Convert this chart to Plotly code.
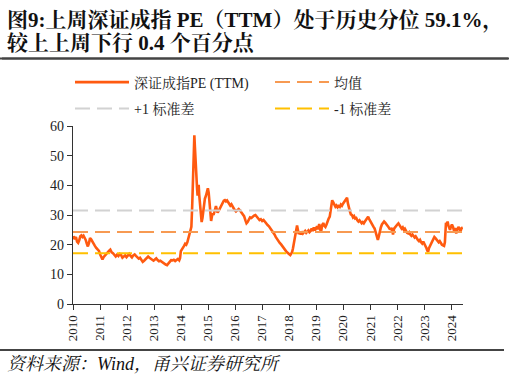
import plotly.graph_objects as go

# ---------------- data ----------------
years = [
    2010.00, 2010.03, 2010.07, 2010.11, 2010.15, 2010.19, 2010.23, 2010.27, 2010.31, 2010.35,
    2010.39, 2010.43, 2010.47, 2010.51, 2010.55, 2010.59, 2010.63, 2010.67, 2010.71, 2010.76,
    2010.81, 2010.86, 2010.91, 2010.96, 2011.01, 2011.05, 2011.09, 2011.13, 2011.18, 2011.23,
    2011.28, 2011.33, 2011.38, 2011.43, 2011.48, 2011.53, 2011.58, 2011.63, 2011.68, 2011.73,
    2011.78, 2011.83, 2011.88, 2011.93, 2011.98, 2012.03, 2012.08, 2012.13, 2012.18, 2012.23,
    2012.28, 2012.33, 2012.38, 2012.43, 2012.48, 2012.53, 2012.58, 2012.63, 2012.68, 2012.73,
    2012.78, 2012.83, 2012.88, 2012.93, 2012.98, 2013.03, 2013.08, 2013.13, 2013.18, 2013.23,
    2013.28, 2013.33, 2013.38, 2013.43, 2013.48, 2013.53, 2013.58, 2013.63, 2013.68, 2013.73,
    2013.78, 2013.83, 2013.88, 2013.93, 2013.96, 2013.99, 2014.03, 2014.07, 2014.11, 2014.15,
    2014.19, 2014.23, 2014.27, 2014.31, 2014.35, 2014.38, 2014.41, 2014.43, 2014.45, 2014.47,
    2014.49, 2014.51, 2014.53, 2014.55, 2014.57, 2014.59, 2014.61, 2014.63, 2014.65, 2014.67,
    2014.70, 2014.73, 2014.76, 2014.79, 2014.82, 2014.85, 2014.88, 2014.92, 2014.96, 2014.99,
    2015.02, 2015.05, 2015.08, 2015.11, 2015.14, 2015.17, 2015.20, 2015.23, 2015.26, 2015.29,
    2015.32, 2015.35, 2015.38, 2015.42, 2015.46, 2015.50, 2015.54, 2015.58, 2015.62, 2015.66,
    2015.70, 2015.74, 2015.78, 2015.82, 2015.86, 2015.90, 2015.94, 2015.98, 2016.03, 2016.08,
    2016.13, 2016.18, 2016.23, 2016.28, 2016.33, 2016.38, 2016.42, 2016.46, 2016.50, 2016.55,
    2016.60, 2016.65, 2016.70, 2016.75, 2016.80, 2016.85, 2016.90, 2016.95, 2017.00, 2017.05,
    2017.10, 2017.15, 2017.20, 2017.25, 2017.30, 2017.35, 2017.40, 2017.45, 2017.50, 2017.55,
    2017.60, 2017.65, 2017.70, 2017.75, 2017.80, 2017.85, 2017.90, 2017.95, 2018.00, 2018.04,
    2018.07, 2018.11, 2018.14, 2018.18, 2018.22, 2018.26, 2018.29, 2018.32, 2018.35, 2018.39,
    2018.43, 2018.47, 2018.51, 2018.55, 2018.59, 2018.63, 2018.67, 2018.71, 2018.75, 2018.79,
    2018.83, 2018.87, 2018.91, 2018.95, 2018.99, 2019.03, 2019.07, 2019.11, 2019.15, 2019.18,
    2019.22, 2019.26, 2019.30, 2019.34, 2019.38, 2019.42, 2019.46, 2019.50, 2019.53, 2019.56,
    2019.59, 2019.62, 2019.65, 2019.68, 2019.71, 2019.75, 2019.79, 2019.83, 2019.87, 2019.91,
    2019.95, 2019.99, 2020.03, 2020.07, 2020.11, 2020.14, 2020.17, 2020.20, 2020.24, 2020.28,
    2020.32, 2020.36, 2020.40, 2020.44, 2020.48, 2020.52, 2020.56, 2020.60, 2020.64, 2020.68,
    2020.72, 2020.76, 2020.80, 2020.84, 2020.88, 2020.92, 2020.96, 2021.00, 2021.04, 2021.08,
    2021.12, 2021.16, 2021.20, 2021.24, 2021.28, 2021.31, 2021.35, 2021.39, 2021.43, 2021.47,
    2021.51, 2021.55, 2021.59, 2021.63, 2021.67, 2021.71, 2021.76, 2021.80, 2021.84, 2021.88,
    2021.92, 2021.96, 2022.00, 2022.04, 2022.08, 2022.12, 2022.16, 2022.20, 2022.24, 2022.28,
    2022.32, 2022.36, 2022.40, 2022.44, 2022.48, 2022.52, 2022.56, 2022.60, 2022.64, 2022.68,
    2022.72, 2022.76, 2022.80, 2022.84, 2022.88, 2022.92, 2022.96, 2023.00, 2023.04, 2023.08,
    2023.11, 2023.14, 2023.17, 2023.21, 2023.25, 2023.29, 2023.33, 2023.37, 2023.41, 2023.45,
    2023.49, 2023.53, 2023.57, 2023.61, 2023.65, 2023.69, 2023.73, 2023.76, 2023.78, 2023.80,
    2023.83, 2023.86, 2023.89, 2023.92, 2023.95, 2023.98, 2024.02, 2024.06, 2024.10, 2024.14,
    2024.18, 2024.22, 2024.26, 2024.30, 2024.34, 2024.38, 2024.42,
]
pe_ttm = [
    21.8, 22.8, 21.9, 22.6, 21.0, 20.6, 21.5, 22.8, 23.1, 22.6,
    23.0, 22.4, 21.6, 20.4, 19.4, 20.5, 22.2, 21.8, 21.0, 20.3,
    19.6, 18.9, 18.4, 17.9, 16.6, 15.6, 15.0, 15.8, 16.4, 17.0,
    17.6, 17.9, 18.3, 17.4, 17.1, 16.4, 16.0, 16.6, 16.2, 16.9,
    16.5, 15.6, 16.1, 16.4, 15.8, 16.3, 16.9, 16.2, 15.7, 16.4,
    16.7, 16.2, 15.8, 15.3, 15.6, 14.8, 14.2, 14.6, 15.0, 15.5,
    16.0, 15.6, 15.2, 15.0, 14.6, 15.0, 15.4, 14.8, 14.4, 14.6,
    14.2, 14.0, 13.6, 13.3, 13.1, 13.6, 14.2, 14.8, 14.7, 14.9,
    14.5, 14.8, 15.2, 14.7, 15.4, 17.8, 18.6, 19.0, 19.6, 20.3,
    20.0, 20.8, 22.4, 23.2, 24.6, 26.0, 33.0, 42.0, 50.5, 55.0,
    56.9, 53.0, 48.0, 43.5, 41.0, 39.0, 36.5, 38.5, 40.2, 36.8,
    33.0, 29.5, 27.6, 29.0, 31.3, 33.5, 35.5, 36.5, 37.8, 39.0,
    37.5, 34.8, 31.0, 28.0, 29.5, 30.6, 30.0, 31.4, 32.2, 33.0,
    31.8, 30.8, 31.2, 32.0, 32.8, 33.6, 34.2, 34.8, 35.0, 34.6,
    34.9, 34.4, 33.8, 33.2, 33.6, 32.8, 32.2, 31.7, 31.2, 31.8,
    32.0, 31.5, 30.8, 30.4, 29.6, 28.2, 27.2, 27.6, 28.6, 29.2,
    29.0, 29.6, 29.8, 30.0, 29.3, 28.8, 28.3, 28.6, 28.0, 28.3,
    27.6, 27.2, 26.6, 26.2, 25.6, 25.0, 24.3, 23.5, 22.6, 21.8,
    21.2, 20.6, 20.1, 19.4, 18.8, 18.2, 17.6, 17.2, 16.9, 16.5,
    16.9, 17.6, 18.8, 21.0, 23.5, 25.8, 26.5, 25.0, 23.6, 24.2,
    23.4, 24.5, 23.8, 24.2, 24.6, 24.0, 24.3, 24.8, 24.2, 24.6,
    25.4, 24.6, 25.8, 24.8, 25.4, 26.2, 25.2, 27.0, 25.0, 24.4,
    26.6, 27.3, 26.4, 26.0, 26.8, 28.0, 28.8, 29.5, 31.0, 33.0,
    35.0, 34.4, 34.0, 33.6, 32.8, 33.2, 32.6, 33.0, 32.7, 33.5,
    33.1, 33.8, 34.4, 34.8, 35.4, 35.8, 34.0, 32.4, 31.4, 30.2,
    30.0, 29.2, 29.6, 28.8, 29.0, 28.2, 27.8, 28.2, 27.4, 27.2,
    27.6, 27.2, 27.8, 28.4, 29.0, 29.4, 28.6, 27.8, 27.2, 26.6,
    26.0, 25.4, 24.2, 22.8, 21.6, 22.6, 24.6, 25.8, 26.8, 27.4,
    27.8, 27.4, 27.0, 26.4, 26.0, 25.4, 25.2, 25.6, 23.4, 25.4,
    26.0, 26.4, 26.8, 27.2, 26.6, 26.2, 25.4, 25.8, 25.0, 25.4,
    24.6, 24.0, 23.8, 24.2, 23.4, 23.0, 23.4, 22.8, 22.4, 22.8,
    22.0, 21.6, 21.2, 21.6, 20.8, 20.4, 21.0, 20.4, 19.6, 18.8,
    18.0, 17.6, 18.8, 19.6, 20.2, 21.0, 21.8, 22.6, 22.2, 21.6,
    21.2, 20.8, 21.2, 20.4, 20.0, 19.8, 19.6, 20.8, 24.8, 27.4,
    26.8, 27.8, 26.4, 25.8, 25.0, 26.0, 26.8, 26.0, 24.6, 25.6,
    23.8, 25.0, 26.0, 25.4, 24.6, 25.6, 25.8,
]
mean_level = 24.3
plus1_level = 31.5
minus1_level = 17.1
span = [2010.0, 2024.42]

tick_years = list(range(2010, 2025))
tick_labels = [str(y) for y in tick_years]

series_names = ["深证成指PE (TTM)", "均值", "+1 标准差", "-1 标准差"]

title_line1 = "图9:上周深证成指 PE（TTM）处于历史分位 59.1%，"
title_line2 = "较上上周下行 0.4 个百分点"
source_text = "资料来源：Wind，甬兴证券研究所"

# ---------------- layout helpers ----------------
W, H = 509, 382
L, R, T, B = 73, 46, 126, 78
PW, PH = W - L - R, H - T - B


def px(x):
    return (x - L) / PW


def py(y):
    return (H - B - y) / PH


FONT = "Times New Roman, Liberation Serif, Noto Serif CJK SC, Noto Sans CJK SC, serif"
DASH = "15px,7px"

fig = go.Figure()
fig.add_trace(go.Scatter(x=years, y=pe_ttm, mode="lines", name=series_names[0],
                         legend="legend", line=dict(color="#FF5A10", width=2.6)))
fig.add_trace(go.Scatter(x=span, y=[mean_level] * 2, mode="lines", name=series_names[1],
                         legend="legend", line=dict(color="#F79A52", width=2, dash=DASH)))
fig.add_trace(go.Scatter(x=span, y=[plus1_level] * 2, mode="lines", name=series_names[2],
                         legend="legend2", line=dict(color="#D2D2D2", width=2, dash=DASH)))
fig.add_trace(go.Scatter(x=span, y=[minus1_level] * 2, mode="lines", name=series_names[3],
                         legend="legend2", line=dict(color="#FFC000", width=2, dash=DASH)))

ITEMW = 54
legend_common = dict(orientation="h", x=px(70), xanchor="left", yanchor="middle",
                     entrywidth=201 - ITEMW - 16, entrywidthmode="pixels", itemwidth=ITEMW,
                     font=dict(family=FONT, size=14, color="#222"),
                     bgcolor="rgba(0,0,0,0)", traceorder="normal")

fig.update_layout(
    width=W, height=H,
    margin=dict(l=L, r=R, t=T, b=B),
    paper_bgcolor="white", plot_bgcolor="white",
    font=dict(family=FONT, size=13, color="#222"),
    showlegend=True,
    legend=dict(legend_common, y=py(82.5)),
    legend2=dict(legend_common, y=py(109)),
    xaxis=dict(range=[2010.0, 2024.43], tickmode="array", tickvals=tick_years,
               ticktext=tick_labels, tickangle=-90, showgrid=False, zeroline=False,
               showline=True, linecolor="#333", linewidth=1.2, ticks="outside",
               ticklen=5, tickcolor="#333", tickfont=dict(family=FONT, size=13)),
    yaxis=dict(range=[0, 60], tickmode="array", tickvals=[0, 10, 20, 30, 40, 50, 60],
               showgrid=False, zeroline=False, showline=True, linecolor="#333",
               linewidth=1.2, ticks="outside", ticklen=5, tickcolor="#333",
               tickfont=dict(family=FONT, size=14)),
    shapes=[
        dict(type="line", xref="paper", yref="paper", x0=px(0), x1=px(509),
             y0=py(58.5), y1=py(58.5), layer="above", line=dict(color="#444", width=2.2)),
        dict(type="line", xref="paper", yref="paper", x0=px(0), x1=px(504),
             y0=py(350), y1=py(350), layer="above", line=dict(color="#444", width=1.8)),
    ],
)

# separator rules drawn as arrow-only annotations (no head) as well
for y_pix, x_end, w in [(58.5, 512, 2.2), (350, 504, 1.8)]:
    fig.add_annotation(text=" ", xref="paper", yref="paper", x=px(x_end), y=py(y_pix),
                       axref="pixel", ayref="pixel", ax=-(x_end + 10), ay=0,
                       showarrow=True, arrowhead=0, arrowwidth=w, arrowcolor="#444",
                       standoff=0, startstandoff=0, font=dict(size=2))

fig.add_annotation(text="<b>" + title_line1 + "</b>", xref="paper", yref="paper",
                   x=px(5), y=py(20.5), xanchor="left", yanchor="middle", showarrow=False,
                   font=dict(family=FONT, size=21, color="#111"))
fig.add_annotation(text="<b>" + title_line2 + "</b>", xref="paper", yref="paper",
                   x=px(5), y=py(42.5), xanchor="left", yanchor="middle", showarrow=False,
                   font=dict(family=FONT, size=21, color="#111"))
fig.add_annotation(text="<i>" + source_text + "</i>", xref="paper", yref="paper",
                   x=px(5), y=py(364), xanchor="left", yanchor="middle", showarrow=False,
                   font=dict(family=FONT, size=18, color="#111"))

fig.write_html("out.html", config={"displayModeBar": False},
               post_script="document.body.style.margin='0px';")
